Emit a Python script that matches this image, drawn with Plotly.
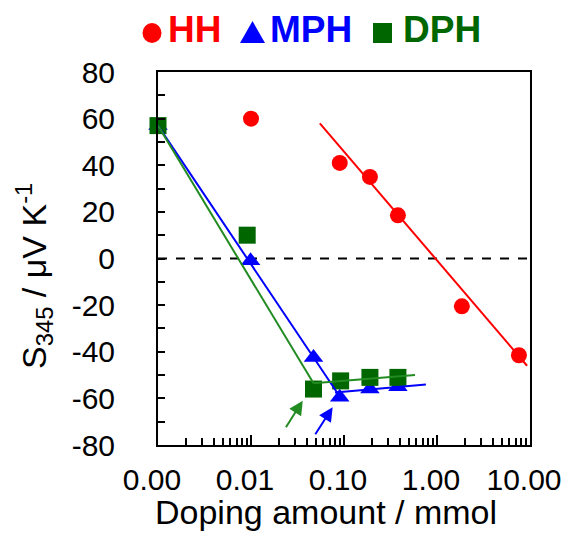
import numpy as np
import plotly.graph_objects as go

# ---- data ----
hh_x = [0.01, 0.09, 0.19, 0.38, 1.85, 7.6]
hh_y = [60, 41, 35, 18.5, -20.5, -41.5]

mph_x = [0.001, 0.0099, 0.047, 0.09, 0.19, 0.38]
mph_y = [57, -1, -42.5, -59.5, -56, -55]

dph_x = [0.001, 0.0091, 0.047, 0.092, 0.19, 0.38]
dph_y = [57, 10, -56, -52.5, -51, -51]

hh_fit_x = [0.055, 9.3]
hh_fit_y = [58, -46]
mph_fit1_x = [0.001, 0.086]
mph_fit1_y = [57, -58]
mph_fit2_x = [0.08, 0.76]
mph_fit2_y = [-57.5, -54]
dph_fit1_x = [0.001, 0.047]
dph_fit1_y = [57, -53.5]
dph_fit2_x = [0.047, 0.58]
dph_fit2_y = [-53.5, -50]

zero_x = [0.001, 10]
zero_y = [0, 0]

arrow_green_tail = (0.0232, -73)
arrow_green_head = (0.036, -61)
arrow_blue_tail = (0.048, -76)
arrow_blue_head = (0.0755, -63.8)

x_tickvals = [0.001, 0.01, 0.1, 1, 10]
x_ticktext = ["0.00", "0.01", "0.10", "1.00", "10.00"]
x_minor = [m * d for d in [0.001, 0.01, 0.1, 1] for m in range(2, 10)]

y_tickvals = [-80, -60, -40, -20, 0, 20, 40, 60, 80]
y_ticktext = ["-80", "-60", "-40", "-20", "0", "20", "40", "60", "80"]

RED = "#FF0000"
BLUE = "#0000FF"
GREEN_M = "#006600"
GREEN_L = "#228B22"
FONT = "Liberation Sans, Arial, sans-serif"

fig = go.Figure()

fig.add_trace(go.Scatter(x=zero_x, y=zero_y, mode="lines",
                         line=dict(color="black", width=2, dash="dash"), showlegend=False))

fig.add_trace(go.Scatter(x=hh_x, y=hh_y, mode="markers", cliponaxis=False,
                         marker=dict(symbol="circle", size=16, color=RED), showlegend=False))
fig.add_trace(go.Scatter(x=mph_x, y=mph_y, mode="markers", cliponaxis=False,
                         marker=dict(symbol="triangle-up", size=17, color=BLUE), showlegend=False))
fig.add_trace(go.Scatter(x=dph_x, y=dph_y, mode="markers", cliponaxis=False,
                         marker=dict(symbol="square", size=17, color=GREEN_M), showlegend=False))

for fx, fy, c in [(hh_fit_x, hh_fit_y, RED),
                  (mph_fit1_x, mph_fit1_y, BLUE), (mph_fit2_x, mph_fit2_y, BLUE),
                  (dph_fit1_x, dph_fit1_y, GREEN_L), (dph_fit2_x, dph_fit2_y, GREEN_L)]:
    fig.add_trace(go.Scatter(x=fx, y=fy, mode="lines", cliponaxis=False,
                             line=dict(color=c, width=2), showlegend=False))

annotations = []
for tail, head, c in [(arrow_green_tail, arrow_green_head, GREEN_L),
                      (arrow_blue_tail, arrow_blue_head, BLUE)]:
    annotations.append(dict(x=np.log10(head[0]), y=head[1], ax=np.log10(tail[0]), ay=tail[1],
                            xref="x", yref="y", axref="x", ayref="y", text="",
                            showarrow=True, arrowhead=2, arrowsize=1.4, arrowwidth=2,
                            arrowcolor=c))

def px2paper_x(px):
    return (px - 158) / 372.0

def px2paper_y(py):
    return (445 - py) / 373.0

for label, left, col in [("HH", 166, RED), ("MPH", 268, BLUE), ("DPH", 401, GREEN_M)]:
    annotations.append(dict(x=px2paper_x(left), y=px2paper_y(30), xref="paper", yref="paper",
                            xanchor="left", yanchor="middle", showarrow=False,
                            text="<b>%s</b>" % label,
                            font=dict(family=FONT, size=37, color=col)))

annotations.append(dict(x=px2paper_x(326), y=px2paper_y(512), xref="paper", yref="paper",
                        xanchor="center", yanchor="middle", showarrow=False,
                        text="Doping amount / mmol", font=dict(family=FONT, size=34, color="black")))
annotations.append(dict(x=px2paper_x(34), y=px2paper_y(276), xref="paper", yref="paper",
                        xanchor="center", yanchor="middle", showarrow=False, textangle=-90,
                        text="S<sub>345</sub> / μV K<sup>-1</sup>",
                        font=dict(family=FONT, size=34, color="black")))

shapes = [
    dict(type="circle", xref="paper", yref="paper", xsizemode="pixel", ysizemode="pixel",
         xanchor=px2paper_x(152), yanchor=px2paper_y(33), x0=-9.5, x1=9.5, y0=-10, y1=10,
         fillcolor=RED, line=dict(width=0)),
    dict(type="path", xref="paper", yref="paper", xsizemode="pixel", ysizemode="pixel",
         xanchor=px2paper_x(252.5), yanchor=px2paper_y(32),
         path="M -12.5,-11 L 12.5,-11 L 0,11 Z", fillcolor=BLUE, line=dict(width=0)),
    dict(type="rect", xref="paper", yref="paper", xsizemode="pixel", ysizemode="pixel",
         xanchor=px2paper_x(382.5), yanchor=px2paper_y(33), x0=-9.5, x1=9.5, y0=-10, y1=10,
         fillcolor=GREEN_M, line=dict(width=0)),
]

fig.update_layout(
    template="none",
    width=569, height=536,
    margin=dict(l=158, r=39, t=72, b=91, autoexpand=False),
    paper_bgcolor="white", plot_bgcolor="white",
    font=dict(family=FONT, size=30, color="black"),
    showlegend=False,
    hovermode=False,
    annotations=annotations,
    shapes=shapes,
)

fig.update_xaxes(type="log", range=[-3, 1], tickmode="array", tickvals=x_tickvals,
                 ticktext=x_ticktext, ticks="inside", ticklen=10, tickwidth=1.5,
                 tickcolor="black", showline=True, linecolor="black", linewidth=2,
                 mirror=True, showgrid=False, zeroline=False, ticklabelstandoff=7,
                 ticklabelshift=-6, automargin=False,
                 minor=dict(tickvals=x_minor, ticks="inside", ticklen=7, tickwidth=1.5,
                            tickcolor="black", showgrid=False),
                 tickfont=dict(family=FONT, size=30, color="black"))
fig.update_yaxes(range=[-80, 80], tickmode="array", tickvals=y_tickvals, ticktext=y_ticktext,
                 ticks="inside", ticklen=7, tickwidth=1.5, tickcolor="black",
                 showline=True, linecolor="black", linewidth=2, mirror=True,
                 showgrid=False, zeroline=False, ticklabelstandoff=35, automargin=False,
                 minor=dict(tickmode="linear", tick0=-80, dtick=10, ticks="inside", ticklen=7,
                            tickwidth=1.5, tickcolor="black", showgrid=False),
                 tickfont=dict(family=FONT, size=30, color="black"))

fig.write_html("out.html", config={"displayModeBar": False},
               post_script="document.body.style.margin='0px';document.body.style.overflow='hidden';")
